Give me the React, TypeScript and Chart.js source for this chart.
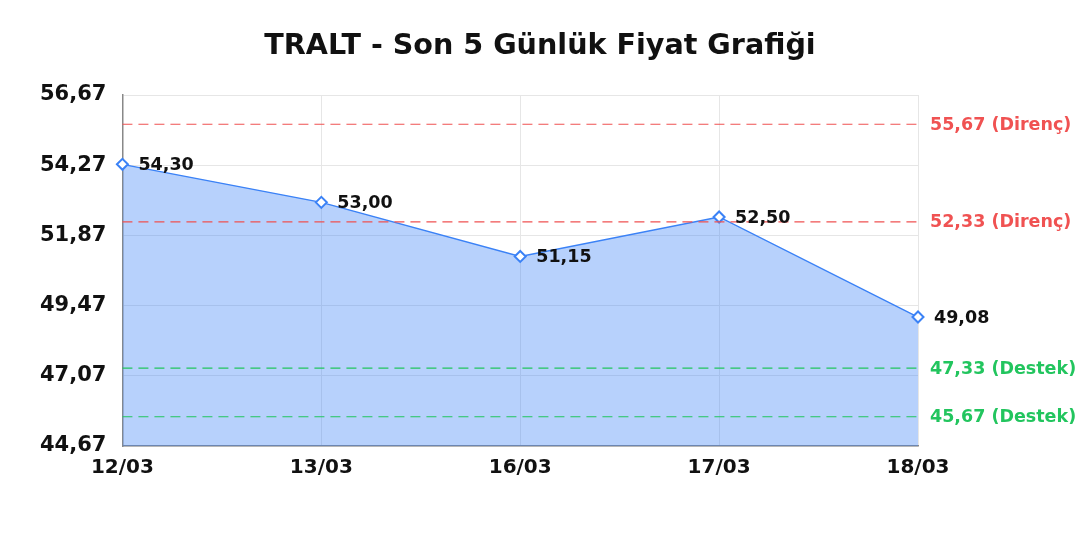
import { useEffect, useRef } from 'react'
import { Chart, ChartConfiguration, Plugin, registerables } from 'chart.js'

Chart.register(...registerables)

const title = 'TRALT - Son 5 Günlük Fiyat Grafiği'
const dates = ['12/03', '13/03', '16/03', '17/03', '18/03']
const prices = [54.3, 53.0, 51.15, 52.5, 49.08]
const yTicks = [44.67, 47.07, 49.47, 51.87, 54.27, 56.67]
const resistance = [55.67, 52.33]
const support = [47.33, 45.67]

const fmt = (v: number) => v.toFixed(2).replace('.', ',')

const FONT = '"DejaVu Sans", sans-serif'

// title centred on the whole canvas, not on the padded layout box
const titlePlugin: Plugin<'line'> = {
  id: 'centerTitle',
  afterDraw(chart) {
    const { ctx, width } = chart
    ctx.save()
    ctx.fillStyle = '#111'
    ctx.font = `bold 28.6px ${FONT}`
    ctx.textAlign = 'center'
    ctx.textBaseline = 'alphabetic'
    ctx.fillText(title, width / 2, 54)
    ctx.restore()
  },
}

const levelsPlugin: Plugin<'line'> = {
  id: 'levels',
  afterDatasetsDraw(chart) {
    const { ctx, chartArea, scales } = chart
    const y = scales.y
    const levels = [
      ...resistance.map(v => ({ v, color: '#f05252', text: `${fmt(v)} (Direnç)` })),
      ...support.map(v => ({ v, color: '#22c55e', text: `${fmt(v)} (Destek)` })),
    ]
    ctx.save()
    levels.forEach(l => {
      const py = y.getPixelForValue(l.v)
      ctx.strokeStyle = l.color
      ctx.lineWidth = 1.2
      ctx.setLineDash([10, 6])
      ctx.beginPath()
      ctx.moveTo(chartArea.left, py)
      ctx.lineTo(chartArea.right, py)
      ctx.stroke()
      ctx.setLineDash([])
      ctx.fillStyle = l.color
      ctx.font = `bold 17.5px ${FONT}`
      ctx.textAlign = 'left'
      ctx.textBaseline = 'middle'
      ctx.fillText(l.text, chartArea.right + 12, py + 1)
    })

    // value labels next to points
    const meta = chart.getDatasetMeta(0)
    ctx.fillStyle = '#111'
    ctx.font = `bold 17.5px ${FONT}`
    meta.data.forEach((pt, i) => {
      ctx.fillText(fmt(prices[i]), pt.x + 16, pt.y + 1)
    })
    ctx.restore()
  },
}

const App = () => {
  const canvasRef = useRef<HTMLCanvasElement>(null)
  const chartRef = useRef<Chart | null>(null)

  useEffect(() => {
    if (!canvasRef.current) return
    const ctx = canvasRef.current.getContext('2d')
    if (!ctx) return
    if (chartRef.current) chartRef.current.destroy()

    const config: ChartConfiguration<'line'> = {
      type: 'line',
      data: {
        labels: dates,
        datasets: [
          {
            data: prices,
            borderColor: '#3b82f6',
            borderWidth: 1.4,
            backgroundColor: 'rgba(59,130,246,0.37)',
            fill: 'origin',
            tension: 0,
            pointStyle: 'rectRot',
            pointRadius: 5.5,
            pointBorderWidth: 2,
            pointBackgroundColor: '#ffffff',
            pointBorderColor: '#3b82f6',
          },
        ],
      },
      options: {
        responsive: true,
        maintainAspectRatio: false,
        animation: false,
        layout: { padding: { left: 24, right: 162, top: 95, bottom: 50 } },
        plugins: {
          legend: { display: false },
          tooltip: { enabled: false },
          title: { display: false },
        },
        scales: {
          x: {
            offset: false,
            grid: { color: '#e6e6e6', drawTicks: false },
            border: { color: '#888888', width: 1.5 },
            ticks: {
              color: '#111',
              font: { family: FONT, size: 20, weight: 'bold' },
              padding: 10,
              maxRotation: 0,
            },
          },
          y: {
            min: yTicks[0],
            max: yTicks[yTicks.length - 1],
            afterBuildTicks: axis => {
              axis.ticks = yTicks.map(v => ({ value: v }))
            },
            grid: { color: '#e6e6e6', drawTicks: false },
            border: { color: '#888888', width: 1.5 },
            ticks: {
              color: '#111',
              font: { family: FONT, size: 21, weight: 'bold' },
              padding: 16,
              callback: v => fmt(Number(v)),
            },
          },
        },
      },
      plugins: [levelsPlugin, titlePlugin],
    }

    chartRef.current = new Chart(ctx, config)
    return () => {
      if (chartRef.current) {
        chartRef.current.destroy()
        chartRef.current = null
      }
    }
  }, [])

  return (
    <div style={{ position: 'fixed', left: 0, top: 0, width: '1080px', height: '540px', background: '#fff' }}>
      <canvas ref={canvasRef}></canvas>
    </div>
  )
}

export default App
